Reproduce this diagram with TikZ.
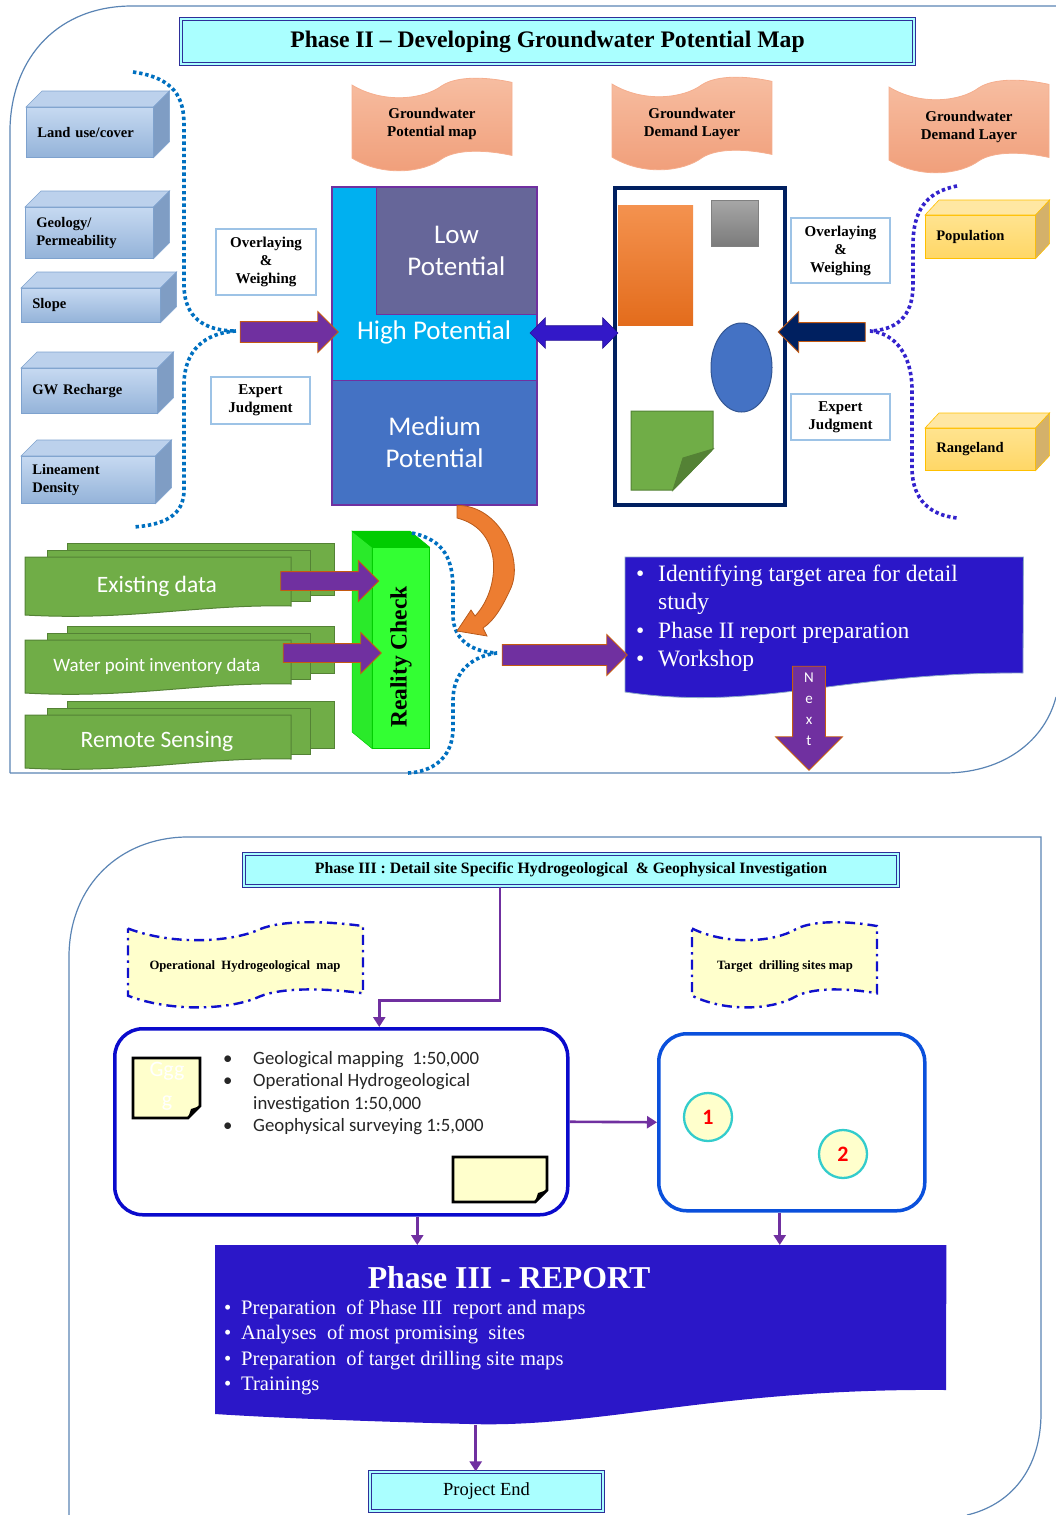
\documentclass[tikz,border=0pt]{standalone}
\usepackage{fontspec}
\setmainfont{Liberation Serif}
\newfontfamily\sansfam{Carlito}
\usetikzlibrary{shapes.arrows,shapes.geometric,arrows.meta}

\definecolor{frameblue}{HTML}{5A84B4}
\definecolor{titlecyan}{HTML}{AAFFFF}
\definecolor{titlenavy}{HTML}{2E2E99}
\definecolor{layertop}{HTML}{C6D9F1}
\definecolor{layerbot}{HTML}{94B3D9}
\definecolor{layeredge}{HTML}{7EA2CE}
\definecolor{layerface}{HTML}{BCD1EC}
\definecolor{layerside}{HTML}{7F9DC4}
\definecolor{ylwtop}{HTML}{FFE38F}
\definecolor{ylwbot}{HTML}{FFD766}
\definecolor{ylwedge}{HTML}{FFC000}
\definecolor{ylwface}{HTML}{FFE7A3}
\definecolor{ylwside}{HTML}{D4B16A}
\definecolor{scrolltop}{HTML}{F7BEA2}
\definecolor{scrollbot}{HTML}{F09D78}
\definecolor{scrolledge}{HTML}{F5AE8E}
\definecolor{methodedge}{HTML}{9DC3E6}
\definecolor{potcyan}{HTML}{00B0F0}
\definecolor{lowpurple}{HTML}{666699}
\definecolor{medblue}{HTML}{4472C4}
\definecolor{mappurple}{HTML}{7030A0}
\definecolor{mapnavy}{HTML}{002060}
\definecolor{arrowpurple}{HTML}{7030A0}
\definecolor{arrowedge}{HTML}{C55A11}
\definecolor{dblblue}{HTML}{3318C8}
\definecolor{reportblue}{HTML}{2B17C8}
\definecolor{reportedge}{HTML}{8EA9C8}
\definecolor{tapegreen}{HTML}{70AD47}
\definecolor{tapeedge}{HTML}{548235}
\definecolor{realfront}{HTML}{33FF33}
\definecolor{realside}{HTML}{2AEA2A}
\definecolor{realtop}{HTML}{00CC00}
\definecolor{dotblue}{HTML}{0070C0}
\definecolor{dotviolet}{HTML}{3322CC}
\definecolor{curveorange}{HTML}{ED7D31}
\definecolor{curveedge}{HTML}{B85A1B}
\definecolor{noteyellow}{HTML}{FFFFCC}
\definecolor{waveblue}{HTML}{1010CC}
\definecolor{opsblue}{HTML}{0A0ACC}
\definecolor{drillblue}{HTML}{0A50DC}
\definecolor{ringteal}{HTML}{33CCCC}
\definecolor{connpurple}{HTML}{7030A0}
\definecolor{graytop}{HTML}{A6A6A6}
\definecolor{graybot}{HTML}{7B7B7B}
\definecolor{orangetop}{HTML}{F4924F}
\definecolor{orangebot}{HTML}{E36C1C}

\begin{document}
\begin{tikzpicture}[x=1pt, y=-1pt,
    every node/.style={inner sep=0pt, align=center},
    phaseframe/.style={draw=frameblue, line width=1.2pt},
    titlebox/.style={draw=titlenavy, line width=1.2pt, double=titlecyan,
      double distance=2.2pt, fill=titlecyan},
    datalayer/.style={anchor=north west, draw=layeredge, line width=0.6pt,
      top color=layertop, bottom color=layerbot, align=left, inner xsep=11pt,
      font=\bfseries\fontsize{14.6}{18}\selectfont},
    ylayer/.style={datalayer, draw=ylwedge, top color=ylwtop, bottom color=ylwbot},
    topface/.style={fill=layerface, draw=layeredge, line width=0.6pt},
    sideface/.style={fill=layerside, draw=layeredge, line width=0.6pt},
    ytopface/.style={fill=ylwface, draw=ylwedge, line width=0.6pt},
    ysideface/.style={fill=ylwside, draw=ylwedge, line width=0.6pt},
    scrollwave/.style={top color=scrolltop, bottom color=scrollbot,
      draw=scrolledge, line width=0.8pt},
    mapwave/.style={fill=noteyellow, draw=waveblue, line width=2.4pt,
      dash pattern=on 10pt off 5pt on 2.5pt off 5pt},
    scrolltext/.style={font=\bfseries\fontsize{15}{18}\selectfont},
    method/.style={draw=methodedge, line width=1.3pt, fill=white,
      font=\bfseries\fontsize{15}{18}\selectfont},
    potlabel/.style={text=white, font=\sansfam\fontsize{27}{32}\selectfont},
    fatarrow/.style={single arrow, fill=arrowpurple, draw=arrowedge, line width=0.8pt,
      inner sep=10pt, single arrow head extend=10pt, minimum width=40},
    dotbrace/.style={dotblue, line width=3.6pt, dash pattern=on 3.4pt off 2.8pt},
    tapelayer/.style={fill=tapegreen, draw=tapeedge, line width=1pt},
    tapetext/.style={text=white},
    conn/.style={connpurple, line width=2.6pt, -{Triangle[length=10pt, width=12pt]}},
    roundbox/.style={anchor=north west, line width=3.5pt, rounded corners=28pt, fill=white},
    notecard/.style={fill=noteyellow, draw=black, line width=2.8pt},
    site/.style={circle, minimum size=48, fill=noteyellow, draw=ringteal, line width=2.3pt,
      text=red, font=\sansfam\bfseries\fontsize{22}{22}\selectfont}]

\useasboundingbox (0,0) rectangle (1056,1515);

% phase II
\draw[phaseframe] (10,773) -- (10,128) .. controls (12,55) and (60,6) .. (132,6) -- (1056,6);
\draw[phaseframe] (10,773) -- (947,773) .. controls (1005,772) and (1045,740) .. (1056,697);

\node[titlebox, minimum width=733, minimum height=45,
  font=\bfseries\fontsize{23.7}{26}\selectfont] (t2) at (547.5,41.5)
  {Phase II -- Developing Groundwater Potential Map};

\coordinate (lbtop) at (133,72);
\coordinate (lbmid) at (236,331);
\coordinate (lbbot) at (133,527);
\draw[dotbrace] (lbtop) .. controls (175,78) and (184,98) .. (184,125) -- (184,285)
  .. controls (184,318) and (205,331) .. (lbmid);
\draw[dotbrace] (lbmid) .. controls (205,333) and (184,350) .. (184,385) -- (184,490)
  .. controls (184,515) and (165,525) .. (lbbot);

\coordinate (rbtop) at (957,186);
\coordinate (rbmid) at (870,331);
\coordinate (rbbot) at (957,518);
\draw[dotbrace, dotviolet] (rbtop) .. controls (925,192) and (913,212) .. (913,245) -- (913,285)
  .. controls (913,318) and (895,330) .. (rbmid);
\draw[dotbrace, dotviolet] (rbmid) .. controls (895,333) and (912,355) .. (912,390) -- (912,470)
  .. controls (913,500) and (930,515) .. (rbbot);

\node[datalayer, text width=105, minimum height=50] (land) at (26,107) {Land use/cover};
\node[datalayer, text width=106, minimum height=51] (geo) at (25,207) {Geology/\\Permeability};
\node[datalayer, text width=117, minimum height=34] (slope) at (21,288) {Slope};
\node[datalayer, text width=114, minimum height=45] (gwr) at (21,368) {GW Recharge};
\node[datalayer, text width=112, minimum height=47] (lin) at (21,456) {Lineament\\Density};
\foreach \b in {land,geo,slope,gwr,lin}{
  \filldraw[topface] (\b.north west) -- ++(16,-16) -- ([shift={(16,-16)}]\b.north east)
    -- (\b.north east) -- cycle;
  \filldraw[sideface] (\b.north east) -- ++(16,-16) -- ([shift={(16,-16)}]\b.south east)
    -- (\b.south east) -- cycle;
}

\node[ylayer, text width=88, minimum height=43] (pop) at (925,215) {Population};
\node[ylayer, text width=88, minimum height=42] (range) at (925,428) {Rangeland};
\foreach \b in {pop,range}{
  \filldraw[ytopface] (\b.north west) -- ++(14,-15) -- ([shift={(14,-15)}]\b.north east)
    -- (\b.north east) -- cycle;
  \filldraw[ysideface] (\b.north east) -- ++(14,-15) -- ([shift={(14,-15)}]\b.south east)
    -- (\b.south east) -- cycle;
}

\foreach \x/\y/\w/\h/\s in {352/78/160/88/scrollwave, 612/77/160/88/scrollwave,
    889/80/160/88/scrollwave, 128/922/235/81/mapwave, 692/922/185/81/mapwave}{
  \path[\s, shift={(\x,\y)}, xscale=\w, yscale=\h]
    (0,0.08) .. controls (0.2,0.3) and (0.45,0.24) .. (0.56,0.09)
    .. controls (0.66,-0.03) and (0.85,-0.01) .. (1,0.05) -- (1,0.88)
    .. controls (0.85,0.82) and (0.66,0.80) .. (0.56,0.92)
    .. controls (0.45,1.07) and (0.2,1.13) .. (0,0.91) -- cycle;
}
\node[scrolltext] (gwpot) at (432,124) {Groundwater\\Potential map};
\node[scrolltext] (gwdem) at (692,124) {Groundwater\\Demand Layer};
\node[scrolltext] (gwdemb) at (969,127) {Groundwater\\Demand Layer};

\node[method, minimum width=100, minimum height=66] (owleft) at (266,262) {Overlaying\\\&\\Weighing};
\node[method, minimum width=99, minimum height=47] (ejleft) at (260.5,400.5) {Expert\\Judgment};
\node[method, minimum width=99, minimum height=65] (owright) at (840.5,250.5) {Overlaying\\\&\\Weighing};
\node[method, minimum width=99, minimum height=46] (ejright) at (840.5,417) {Expert\\Judgment};

\node[anchor=north west, fill=potcyan, minimum width=205, minimum height=318] (potmap) at (332,187) {};
\node[anchor=north east, fill=lowpurple, draw=mappurple, line width=1.2pt, minimum width=160,
  minimum height=127, potlabel] (low) at (537,187) {Low\\Potential};
\node[anchor=south, fill=medblue, draw=mappurple, line width=0.6pt, minimum width=205,
  minimum height=125, potlabel] (med) at (potmap.south) {Medium\\Potential};
\node[potlabel] (high) at (434,332) {High Potential};
\draw[mappurple, line width=2pt] (potmap.north west) rectangle (potmap.south east);

\node[anchor=north west, draw=mapnavy, line width=4pt, minimum width=170, minimum height=317] (demmap) at (613,186) {};
\node[anchor=north west, top color=orangetop, bottom color=orangebot, minimum width=75,
  minimum height=120] (orect) at (618,205) {};
\node[anchor=north west, top color=graytop, bottom color=graybot, draw=gray, line width=0.8pt,
  minimum width=47, minimum height=46] (gsq) at (711,200) {};
\node[ellipse, fill=medblue, draw=medblue!75!black, line width=1pt, minimum width=61,
  minimum height=89] (ell) at (741.5,367.5) {};
\filldraw[fill=tapegreen, draw=tapeedge, line width=1pt] (631,411) -- (713,411) -- (713,449)
  -- (673,490) -- (631,490) -- cycle;
\filldraw[fill=tapeedge, draw=tapeedge, line width=1pt] (713,449) -- (683,458) -- (673,490) -- cycle;

\node[fatarrow, minimum height=98] (inarrow) at (284,332) {};
\node[double arrow, fill=dblblue, draw=dblblue!75!black, line width=0.6pt, inner sep=7pt,
  double arrow head extend=8pt, minimum height=88, minimum width=30] (linkarrow) at (574,333) {};
\node[fatarrow, fill=mapnavy, rotate=180, inner sep=9pt, single arrow head extend=11pt,
  minimum height=87] (demarrow) at (826.5,332) {};

% data and reality check
\foreach \n/\y/\h/\s/\txt in {exist/557/58/23.5/Existing data,
    water/640/53/18.9/Water point inventory data, remote/715/53/23.5/Remote Sensing}{
  \filldraw[tapelayer] (67,\y-14) rectangle (334,\y+\h-20);
  \filldraw[tapelayer] (47,\y-7) rectangle (310,\y+\h-14);
  \filldraw[tapelayer] (25,\y) -- (291,\y) -- (291,\y+\h-9)
    .. controls (200,\y+\h-11) and (130,\y+\h+6) .. (25,\y+\h) -- cycle;
  \node[tapetext, font=\sansfam\fontsize{\s}{\s}\selectfont] (\n) at (157,\y+\h/2) {\txt};
}

\node[anchor=north west, fill=realfront, draw=realtop, line width=0.5pt, minimum width=57,
  minimum height=201] (real) at (372,547) {};
\filldraw[fill=realside, draw=realtop, line width=0.5pt] (real.north west) -- ++(-20,-16)
  -- ++(0,201) -- (real.south west) -- cycle;
\filldraw[fill=realtop, draw=realtop, line width=0.5pt] (real.north west) -- ++(-20,-16)
  -- ++(58,0) -- (real.north east) -- cycle;
\node[rotate=90, font=\bfseries\fontsize{23.5}{23.5}\selectfont] (realtxt) at (401,657) {Reality Check};

\node[fatarrow, inner sep=9pt, single arrow head extend=11pt, minimum height=98] (exarrow) at (325,581) {};
\node[fatarrow, inner sep=9pt, single arrow head extend=11pt, minimum height=98] (wparrow) at (327.5,653) {};

\coordinate (rctop) at (412,533);
\coordinate (rcmid) at (497,653);
\coordinate (rcbot) at (408,773);
\draw[dotbrace] (rctop) .. controls (445,540) and (453,560) .. (453,590) -- (453,615)
  .. controls (453,640) and (472,652) .. (rcmid);
\draw[dotbrace] (rcmid) .. controls (472,656) and (453,672) .. (453,700) -- (453,730)
  .. controls (452,760) and (430,772) .. (rcbot);

\filldraw[fill=curveorange, draw=curveedge, line width=0.8pt] (med.south -| 457,0)
  .. controls (500,505) and (525,560) .. (510,590) .. controls (503,605) and (495,620) .. (483,628)
  -- (487,636) -- (457,631) -- (471,610) -- (475,616)
  .. controls (500,590) and (505,530) .. (457,518) -- cycle;

\node[anchor=north west, minimum width=398, minimum height=143] (rep2) at (625,557) {};
\filldraw[fill=reportblue, draw=reportedge, line width=0.8pt] (rep2.north west) -- (rep2.north east)
  -- (1023,673) .. controls (840,672) and (760,712) .. (625,692) -- cycle;
\node[anchor=north west, text=white, font=\fontsize{23.5}{28.5}\selectfont] (rep2txt) at (636,561)
  {\begin{tabular}{@{}p{22pt}@{}l@{}}
   \textbullet & Identifying target area for detail\\
               & study\\
   \textbullet & Phase II report preparation\\
   \textbullet & Workshop
   \end{tabular}};
\node[fatarrow, inner sep=10pt, single arrow head extend=10pt, minimum height=125] (reparrow) at (559.5,655) {};

\node[fatarrow, rotate=-90, inner sep=16pt, single arrow head extend=17pt, minimum height=104,
  minimum width=66] (nextarrow) at (809,710) {};
\node[text=white, font=\sansfam\fontsize{15}{21}\selectfont] (nexttxt) at (809,709) {N\\e\\x\\t};

% phase III
\draw[phaseframe] (69,1515) -- (69,955) .. controls (70,885) and (120,838) .. (186,837) -- (1041,837)
  -- (1041,1413) .. controls (1041,1470) and (1010,1505) .. (967,1515);

\node[titlebox, minimum width=654, minimum height=32, font=\bfseries\fontsize{15.8}{16}\selectfont]
  (t3) at (571,870) {Phase III : Detail site Specific Hydrogeological\ \ \& Geophysical Investigation};

\node[font=\bfseries\fontsize{12.7}{14}\selectfont] (opmap) at (245,966) {Operational\ \ Hydrogeological\ \ map};
\node[font=\bfseries\fontsize{12.7}{14}\selectfont] (tgmap) at (785,966) {Target\ \ drilling sites map};

\node[roundbox, draw=opsblue, minimum width=453, minimum height=186] (ops) at (113,1027) {};
\node[roundbox, draw=drillblue, minimum width=266, minimum height=177] (drill) at (657,1032) {};

\filldraw[notecard] (133,1058) -- (200,1058) -- (200,1106) -- (188,1118) -- (133,1118) -- cycle;
\fill (200,1106) -- (191,1109) -- (188,1118) -- cycle;
\node[text=white, font=\sansfam\fontsize{22}{30}\selectfont] (gnote) at (167,1086) {Ggg\\g};
\filldraw[notecard] (453,1157) -- (547,1157) -- (547,1190) -- (535,1202) -- (453,1202) -- cycle;
\fill (547,1190) -- (538,1193) -- (535,1202) -- cycle;

\node[anchor=north west, text=black!85, font=\sansfam\fontsize{18.8}{22.6}\selectfont] (opslist) at (223,1048)
  {\begin{tabular}{@{}p{30pt}@{}l@{}}
   \textbullet & Geological mapping\ \ 1:50,000\\
   \textbullet & Operational Hydrogeological\\
               & investigation 1:50,000\\
   \textbullet & Geophysical surveying 1:5,000
   \end{tabular}};

\node[site] (site1) at (708,1117) {1};
\node[site] (site2) at (843,1154) {2};

\node[anchor=north west, minimum width=731, minimum height=180] (rep) at (215,1245) {};
\fill[reportblue] (rep.north west) -- (rep.north east) -- (946,1390)
  .. controls (720,1388) and (600,1428) .. (470,1424) .. controls (350,1421) and (260,1417) .. (215,1414) -- cycle;
\node[text=white, font=\bfseries\fontsize{31.8}{32}\selectfont] (reptitle) at (509,1278) {Phase III - REPORT};
\node[anchor=north west, text=white, font=\fontsize{20.6}{25.5}\selectfont] (replist) at (224,1296)
  {\begin{tabular}{@{}p{17pt}@{}l@{}}
   \textbullet & Preparation\ \ of Phase III\ \ report and maps\\
   \textbullet & Analyses\ \ of most promising\ \ sites\\
   \textbullet & Preparation\ \ of target drilling site maps\\
   \textbullet & Trainings
   \end{tabular}};

\node[titlebox, minimum width=233, minimum height=39, font=\fontsize{18.5}{20}\selectfont]
  (pend) at (486.5,1491.5) {Project End};

\coordinate (t3out) at ([xshift=-71pt]t3.south);
\coordinate (opsin) at ([xshift=38pt]ops.north);
\coordinate (opsout) at ([xshift=76pt]ops.south);
\coordinate (drillout) at ([xshift=-12pt]drill.south);
\coordinate (repout) at ([xshift=-105pt]rep.south);
\draw[conn] (t3out) -- ++(0,114) -| (opsin);
\draw[conn] (ops.east) -- (drill.west);
\draw[conn] (opsout) -- (opsout |- rep.north);
\draw[conn] (drillout) -- (drillout |- rep.north);
\draw[conn] (repout) -- (repout |- pend.north);
\end{tikzpicture}
\end{document}
